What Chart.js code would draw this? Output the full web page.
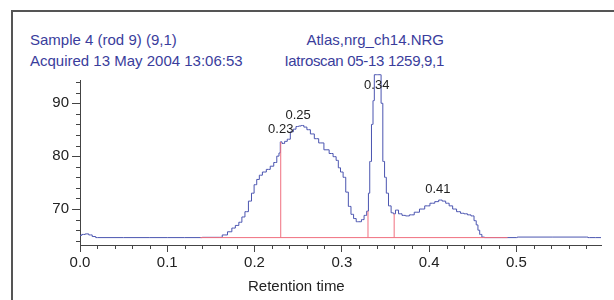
<!DOCTYPE html>
<html>
<head>
<meta charset="utf-8">
<script src="https://cdn.jsdelivr.net/npm/chart.js@4.4.0/dist/chart.umd.min.js"></script>
<style>
  body { margin: 0; background: #fff; }
  #wrap { position: relative; width: 614px; height: 300px; overflow: hidden; font-family: "Liberation Sans", Arial, sans-serif; }
  #frame { position: absolute; left: 11px; top: 10px; width: 620px; height: 300px; border-left: 2px solid #555; border-top: 2px solid #555; }
  .hdr { position: absolute; color: #3a3d9c; font-size: 15px; line-height: 21px; white-space: nowrap; }
  #xtitle { position: absolute; top: 277px; left: 248px; font-size: 15px; color: #222; white-space: nowrap; }
  canvas { position: absolute; left: 0; top: 0; }
</style>
</head>
<body>
<div id="wrap">
  <div id="frame"></div>
  <div class="hdr" style="left:30px; top:29px;">Sample 4 (rod 9) (9,1)<br>Acquired 13 May 2004 13:06:53</div>
  <div class="hdr" style="right:170px; top:29px; text-align:right;">Atlas,nrg_ch14.NRG<br><span style="letter-spacing:-0.3px">Iatroscan 05-13 1259,9,1</span></div>
  <canvas id="chart" width="614" height="300"></canvas>
  <div id="xtitle">Retention time</div>
</div>
<script>
// scan
const times = [0, 0.004, 0.008, 0.012, 0.016, 0.02, 0.08, 0.12, 0.16, 0.166, 0.172, 0.176, 0.180, 0.184, 0.187,
  0.191, 0.195, 0.198, 0.201, 0.204, 0.207, 0.211, 0.216, 0.220, 0.224, 0.227, 0.229, 0.230, 0.233, 0.236,
  0.239, 0.243, 0.246, 0.249, 0.252, 0.255, 0.258, 0.262, 0.266, 0.271, 0.276, 0.283, 0.288, 0.292, 0.295,
  0.297, 0.300, 0.303, 0.306, 0.309, 0.312, 0.315, 0.318, 0.321, 0.324, 0.327, 0.330, 0.331, 0.333, 0.335,
  0.3365, 0.338, 0.341, 0.344, 0.346, 0.348, 0.350, 0.352, 0.355, 0.358, 0.360, 0.363, 0.367, 0.371, 0.375,
  0.380, 0.386, 0.392, 0.398, 0.404, 0.409, 0.413, 0.417, 0.421, 0.425, 0.429, 0.434, 0.438, 0.442, 0.446,
  0.450, 0.453, 0.455, 0.457, 0.459, 0.462, 0.465, 0.50, 0.502, 0.58, 0.584, 0.597];
const signal = [65.0, 65.2, 65.3, 65.1, 64.8, 64.6, 64.6, 64.6, 64.65, 65.1, 65.7, 66.4, 66.9, 67.5, 68.5,
  69.5, 71.5, 73.0, 74.6, 75.6, 76.4, 77.0, 77.5, 78.1, 78.8, 80.0, 80.6, 82.7, 82.4, 82.8,
  83.2, 84.6, 85.1, 85.6, 85.7, 85.8, 85.5, 85.0, 84.2, 83.3, 82.5, 81.2, 80.5, 79.9, 79.2,
  77.8, 77.0, 76.0, 73.2, 70.5, 69.0, 68.2, 67.6, 67.6, 68.0, 68.8, 69.6, 73.0, 79.0, 86.0,
  90.5, 95.4, 95.4, 95.4, 90.0, 79.0, 76.0, 73.0, 70.6, 69.3, 69.1, 69.8, 69.1, 68.8, 68.7,
  68.9, 69.4, 70.0, 70.6, 71.1, 71.4, 71.7, 71.5, 71.1, 70.6, 70.0, 69.5, 69.2, 69.1, 68.9,
  68.7, 67.8, 67.0, 66.0, 65.2, 64.7, 64.6, 64.6, 64.7, 64.7, 64.6, 64.6];

// integration baseline and cut lines
const baseTimes = [0.138, 0.49];
const baseLevel = 64.6;
const cutTimes = [0.23, 0.33, 0.36];
const cutHeights = [82.7, 69.6, 69.1];

// peak labels
const peakTimes = [0.23, 0.25, 0.34, 0.41];
const peakHeights = [82.9, 85.7, 95.4, 71.7];

// ticks
const xMajor = [0, 0.1, 0.2, 0.3, 0.4, 0.5];
const xMinor = [0.02, 0.04, 0.06, 0.08, 0.12, 0.14, 0.16, 0.18, 0.22, 0.24, 0.26, 0.28,
  0.32, 0.34, 0.36, 0.38, 0.42, 0.44, 0.46, 0.48, 0.52, 0.54, 0.56, 0.58];
const yMajor = [70, 80, 90];
const yMinor = [64, 66, 68, 72, 74, 76, 78, 82, 84, 86, 88, 92, 94];

const blue = '#4b55b0';
const red = '#f0707f';
const axisColor = '#444';

const datasets = [];
datasets.push({
  data: baseTimes.map(t => ({ x: t, y: baseLevel })),
  borderColor: red, borderWidth: 1, pointRadius: 0
});
cutTimes.forEach((t, i) => {
  datasets.push({
    data: [{ x: t, y: baseLevel }, { x: t, y: cutHeights[i] }],
    borderColor: red, borderWidth: 1, pointRadius: 0
  });
});
datasets.push({
  data: times.map((t, i) => ({ x: t, y: signal[i] })),
  borderColor: blue, borderWidth: 1, pointRadius: 0, stepped: 'middle', clip: false
});

const minorTicks = {
  id: 'minorTicks',
  afterDraw(chart) {
    const c = chart.ctx, xs = chart.scales.x, ys = chart.scales.y;
    c.save();
    c.strokeStyle = axisColor;
    c.lineWidth = 1;
    c.beginPath();
    xMinor.forEach(v => {
      const px = Math.round(xs.getPixelForValue(v)) + 0.5;
      c.moveTo(px, xs.top); c.lineTo(px, xs.top + 4);
    });
    yMinor.forEach(v => {
      const py = Math.round(ys.getPixelForValue(v)) + 0.5;
      c.moveTo(ys.right, py); c.lineTo(ys.right - 4, py);
    });
    c.stroke();
    c.restore();
  }
};

const peakLabels = {
  id: 'peakLabels',
  afterDatasetsDraw(chart) {
    const c = chart.ctx, xs = chart.scales.x, ys = chart.scales.y;
    c.save();
    c.fillStyle = '#222';
    c.font = '13px "Liberation Sans", Arial, sans-serif';
    c.textAlign = 'center';
    c.textBaseline = 'middle';
    peakTimes.forEach((t, i) => {
      const px = xs.getPixelForValue(t);
      const py = Math.max(ys.getPixelForValue(peakHeights[i]) - 11, chart.chartArea.top + 5);
      c.fillText(t.toFixed(2), px, py);
    });
    c.restore();
  }
};

new Chart(document.getElementById('chart'), {
  type: 'line',
  data: { datasets },
  options: {
    responsive: false,
    animation: false,
    events: [],
    layout: { padding: { top: 80, right: 13, left: 0, bottom: 0 } },
    plugins: { legend: { display: false }, tooltip: { enabled: false } },
    scales: {
      x: {
        type: 'linear', min: 0, max: 0.597,
        afterBuildTicks: s => { s.ticks = xMajor.map(v => ({ value: v })); },
        afterFit: s => { s.height = 55; },
        border: { display: true, color: axisColor, width: 1 },
        grid: { drawOnChartArea: false, drawTicks: true, tickLength: 7, tickColor: axisColor },
        ticks: {
          autoSkip: false, maxRotation: 0, padding: 2, color: '#222',
          font: { family: '"Liberation Sans", Arial, sans-serif', size: 15 },
          callback: v => Number(v).toFixed(1)
        }
      },
      y: {
        type: 'linear', min: 63.2, max: 94.4,
        afterBuildTicks: s => { s.ticks = yMajor.map(v => ({ value: v })); },
        afterFit: s => { s.width = 80; },
        border: { display: true, color: axisColor, width: 1 },
        grid: { drawOnChartArea: false, drawTicks: true, tickLength: 8, tickColor: axisColor },
        ticks: {
          padding: 3, color: '#222',
          font: { family: '"Liberation Sans", Arial, sans-serif', size: 15 },
          callback: v => String(v)
        }
      }
    }
  },
  plugins: [minorTicks, peakLabels]
});
</script>
</body>
</html>
